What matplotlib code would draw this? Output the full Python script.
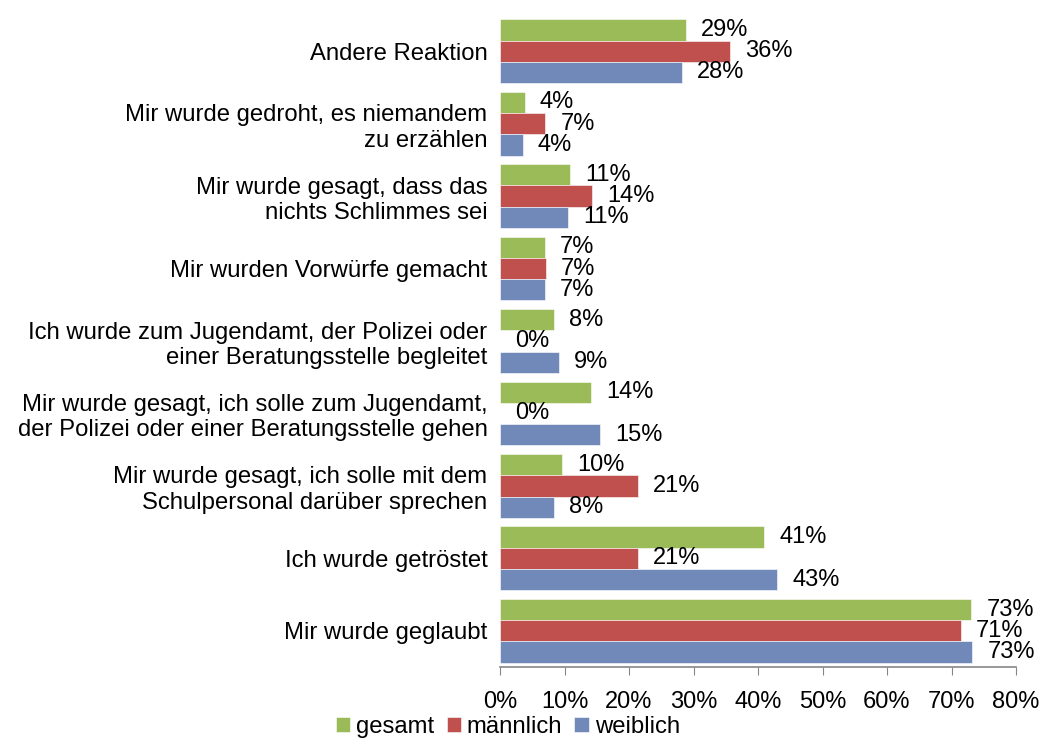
import matplotlib
matplotlib.use("Agg")
import matplotlib.pyplot as plt
import numpy as np

categories = [
    "Mir wurde geglaubt",
    "Ich wurde getröstet",
    "Mir wurde gesagt, ich solle mit dem\nSchulpersonal darüber sprechen",
    "Mir wurde gesagt, ich solle zum Jugendamt,\nder Polizei oder einer Beratungsstelle gehen",
    "Ich wurde zum Jugendamt, der Polizei oder\neiner Beratungsstelle begleitet",
    "Mir wurden Vorwürfe gemacht",
    "Mir wurde gesagt, dass das\nnichts Schlimmes sei",
    "Mir wurde gedroht, es niemandem\nzu erzählen",
    "Andere Reaktion",
]
gesamt = [73.1, 41.0, 9.6, 14.1, 8.3, 6.9, 10.9, 3.8, 28.8]
maennlich = [71.4, 21.4, 21.4, 0.0, 0.0, 7.1, 14.2, 7.0, 35.7]
weiblich = [73.2, 43.0, 8.4, 15.5, 9.1, 6.9, 10.5, 3.5, 28.2]
gesamt_lbl = ["73%", "41%", "10%", "14%", "8%", "7%", "11%", "4%", "29%"]
maennlich_lbl = ["71%", "21%", "21%", "0%", "0%", "7%", "14%", "7%", "36%"]
weiblich_lbl = ["73%", "43%", "8%", "15%", "9%", "7%", "11%", "4%", "28%"]
series_names = ["gesamt", "männlich", "weiblich"]
xticks = [0, 10, 20, 30, 40, 50, 60, 70, 80]

colors = ["#9BBB59", "#C0504D", "#7189B9"]

plt.rcParams['font.family'] = ['Liberation Sans', 'DejaVu Sans']
FS = 17.2
NFS = 17

fig = plt.figure(figsize=(10.43, 7.42), dpi=100)
ax = fig.add_axes([500/1043, 1 - 667/742, 516/1043, (667 - 15)/742])

y = np.arange(len(categories))
h = 0.293
offsets = [h, 0, -h]
data = [gesamt, maennlich, weiblich]
labels = [gesamt_lbl, maennlich_lbl, weiblich_lbl]
for vals, lbls, off, col, name in zip(data, labels, offsets, colors, series_names):
    bars = ax.barh(y + off, vals, height=h, color=col, label=name,
                   edgecolor='white', linewidth=0.4)
    for b, v, l in zip(bars, vals, lbls):
        ax.annotate(l, (v, b.get_y() + b.get_height() / 2), xytext=(11, 0),
                    textcoords='offset points', va='center', ha='left',
                    fontsize=NFS, color='black')

ax.set_xlim(0, 80)
ax.set_ylim(-0.5, len(categories) - 0.5)
ax.set_xticks(xticks)
ax.set_xticklabels([f"{t}%" for t in xticks], fontsize=NFS)
ax.set_yticks(y)
ax.set_yticklabels(categories, fontsize=FS)
ax.tick_params(axis='y', length=0, pad=9)
ax.tick_params(axis='x', direction='out', length=6, color='#868686', pad=11)
for s in ['top', 'right', 'left']:
    ax.spines[s].set_visible(False)
ax.spines['bottom'].set_color('#868686')
ax.spines['bottom'].set_linewidth(1.2)

fig.legend(loc='lower center', bbox_to_anchor=(0.487, -0.024), ncol=3, frameon=False,
           fontsize=FS, handlelength=0.6, handleheight=0.6, handletextpad=0.25,
           columnspacing=0.5)

fig.savefig("out.png", dpi=100)
